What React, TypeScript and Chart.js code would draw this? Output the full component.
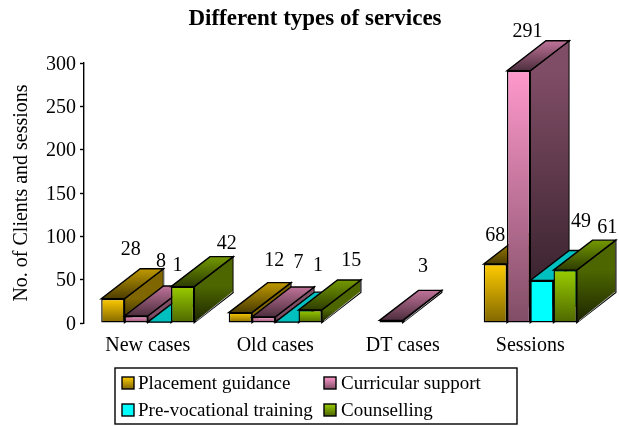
import React, { useEffect, useRef } from "react";
import { Chart, registerables } from "chart.js";

Chart.register(...registerables);

const categories = ["New cases", "Old cases", "DT cases", "Sessions"];
const seriesNames = ["Placement guidance", "Curricular support", "Pre-vocational training", "Counselling"];
const placementGuidance = [28, 12, null, 68];
const curricularSupport = [8, 7, 3, 291];
const preVocationalTraining = [1, 1, null, 49];
const counselling = [42, 15, null, 61];
const yTicks = [0, 50, 100, 150, 200, 250, 300];

const seriesValues = [placementGuidance, curricularSupport, preVocationalTraining, counselling];
const baseRGB = [[255, 204, 0], [255, 153, 204], [0, 255, 255], [153, 204, 0]];
const FONT = '"Liberation Serif", "Times New Roman", serif';
const DX = 39;
const DY = -30;
// value-label placement relative to each bar's top centre
const labelOffsets = [
  [[18, -48.5], [34, -51.5], null, [0, -28.5]],
  [[25, -54.5], [35, -54.5], [32, -53.5], [9, -39.5]],
  [[18, -56.5], [31, -56.5], null, [39, -58.5]],
  [[44, -42.5], [41, -49.5], null, [42, -42.5]],
];

const shade = (c: number[], k: number) => `rgb(${c.map((v) => Math.round(v * k)).join(",")})`;
const isCyan = (i: number) => i === 2;

function poly(ctx: CanvasRenderingContext2D, pts: number[][], fill: any) {
  ctx.beginPath();
  pts.forEach((p, i) => (i ? ctx.lineTo(p[0], p[1]) : ctx.moveTo(p[0], p[1])));
  ctx.closePath();
  ctx.fillStyle = fill;
  ctx.fill();
  ctx.stroke();
}

const bars3d = {
  id: "bars3d",
  afterLayout(chart: any) {
    if (chart.titleBlock) {
      chart.titleBlock.left = 11;
      chart.titleBlock.right = 619;
    }
  },
  beforeDatasetDraw() {
    return false;
  },
  beforeDatasetsDraw(chart: any) {
    const ctx: CanvasRenderingContext2D = chart.ctx;
    ctx.save();
    ctx.strokeStyle = "#000";
    ctx.lineWidth = 1.4;
    ctx.lineJoin = "miter";
    seriesValues.forEach((_, i) => {
      const meta = chart.getDatasetMeta(i);
      const c = baseRGB[i];
      meta.data.forEach((el: any, j: number) => {
        if (seriesValues[i][j] == null) return;
        const l = el.x - el.width / 2;
        const r = el.x + el.width / 2;
        const t = el.y;
        const b = el.base;
        const side = ctx.createLinearGradient(0, t, 0, b);
        side.addColorStop(0, isCyan(i) ? shade(c, 0.6) : shade(c, 0.5));
        side.addColorStop(1, isCyan(i) ? shade(c, 0.6) : shade(c, 0.18));
        poly(ctx, [[r, t], [r + DX, t + DY], [r + DX, b + DY], [r, b]], side);
        // pale rim along the lower edge, grey far edge of the side face
        ctx.save();
        ctx.strokeStyle = "rgba(235,235,235,0.75)";
        ctx.lineWidth = 0.9;
        ctx.beginPath();
        ctx.moveTo(r + 2, b - 1.6);
        ctx.lineTo(r + DX - 0.6, b + DY - 0.6);
        ctx.stroke();
        ctx.strokeStyle = "rgba(130,130,130,0.9)";
        ctx.lineWidth = 1;
        ctx.beginPath();
        ctx.moveTo(r + DX + 0.2, t + DY + 1);
        ctx.lineTo(r + DX + 0.2, b + DY);
        ctx.stroke();
        ctx.restore();
        const top = ctx.createLinearGradient(0, t, 0, t + DY);
        top.addColorStop(0, isCyan(i) ? shade(c, 0.75) : shade(c, 0.3));
        top.addColorStop(1, isCyan(i) ? shade(c, 0.75) : shade(c, 0.75));
        poly(ctx, [[l, t], [l + DX, t + DY], [r + DX, t + DY], [r, t]], top);
        el.draw(ctx);
      });
    });
    ctx.restore();
  },
  afterDatasetsDraw(chart: any) {
    const ctx: CanvasRenderingContext2D = chart.ctx;
    ctx.save();
    ctx.fillStyle = "#000";
    ctx.font = `20px ${FONT}`;
    ctx.textAlign = "center";
    ctx.textBaseline = "middle";
    seriesValues.forEach((vals, i) => {
      chart.getDatasetMeta(i).data.forEach((el: any, j: number) => {
        const off = labelOffsets[i][j];
        if (vals[j] == null || !off) return;
        ctx.fillText(String(vals[j]), el.x + off[0], el.y + off[1]);
      });
    });
    // legend
    ctx.strokeStyle = "#000";
    ctx.lineWidth = 1.4;
    ctx.strokeRect(115, 368, 402, 56);
    ctx.font = `19px ${FONT}`;
    ctx.textAlign = "left";
    seriesNames.forEach((name, i) => {
      const col = i % 2;
      const row = Math.floor(i / 2);
      const sx = col ? 324 : 122;
      const ty = row ? 410 : 383;
      const g = ctx.createLinearGradient(0, ty - 6, 0, ty + 6);
      g.addColorStop(0, shade(baseRGB[i], 1));
      g.addColorStop(1, isCyan(i) ? shade(baseRGB[i], 1) : shade(baseRGB[i], 0.5));
      ctx.fillStyle = g;
      ctx.fillRect(sx, ty - 6, 12, 12);
      ctx.strokeRect(sx, ty - 6, 12, 12);
      ctx.fillStyle = "#000";
      ctx.fillText(name, col ? 341 : 138, ty + 1);
    });
    ctx.restore();
  },
};

export default function App() {
  const ref = useRef<HTMLCanvasElement>(null);
  useEffect(() => {
    const chart = new Chart(ref.current!, {
      type: "bar",
      plugins: [bars3d],
      data: {
        labels: categories,
        datasets: seriesNames.map((label, i) => ({
          label,
          data: seriesValues[i],
          categoryPercentage: 0.73,
          barPercentage: 1,
          borderColor: "#000",
          borderWidth: 1.4,
          borderSkipped: false,
          backgroundColor: (c: any) => {
            const ch = c.chart;
            const ys = ch.scales.y;
            if (!ys || c.raw == null || isCyan(i)) return shade(baseRGB[i], 1);
            const y0 = ys.getPixelForValue(c.raw);
            const y1 = ys.getPixelForValue(0);
            if (!Number.isFinite(y0) || !Number.isFinite(y1)) return shade(baseRGB[i], 1);
            const g = ch.ctx.createLinearGradient(0, y0, 0, y1);
            g.addColorStop(0, shade(baseRGB[i], 1));
            g.addColorStop(1, shade(baseRGB[i], 0.5));
            return g;
          },
        })),
      },
      options: {
        responsive: false,
        animation: false,
        layout: { padding: { left: 0, right: 25, top: 5, bottom: 63 } },
        plugins: {
          legend: { display: false },
          tooltip: { enabled: false },
          title: {
            display: true,
            text: "Different types of services",
            color: "#000",
            font: { family: FONT, size: 23, weight: "bold" },
            padding: { top: 0, bottom: 30.4 },
          },
        },
        scales: {
          x: {
            grid: { display: false },
            border: { display: false },
            ticks: { color: "#000", padding: 3, maxRotation: 0, font: { family: FONT, size: 20 } },
            afterFit: (s: any) => { s.height = 40; },
          },
          y: {
            min: 0,
            max: 300,
            afterBuildTicks: (s: any) => { s.ticks = yTicks.map((value) => ({ value })); },
            grid: { drawOnChartArea: false, tickColor: "#000", tickLength: 4, tickWidth: 1.4 },
            border: { color: "#000", width: 1.4 },
            ticks: { color: "#000", padding: 4, labelOffset: 1.5, font: { family: FONT, size: 20 } },
            title: {
              display: true,
              text: "No. of Clients and sessions",
              color: "#000",
              font: { family: FONT, size: 20 },
              padding: { top: 10, bottom: 0 },
            },
            afterFit: (s: any) => { s.width = 84; },
          },
        },
      },
    } as any);
    return () => chart.destroy();
  }, []);
  return (
    <div style={{ position: "absolute", left: 0, top: 0, width: 619, height: 426 }}>
      <canvas ref={ref} width={619} height={426} style={{ display: "block" }} />
    </div>
  );
}
